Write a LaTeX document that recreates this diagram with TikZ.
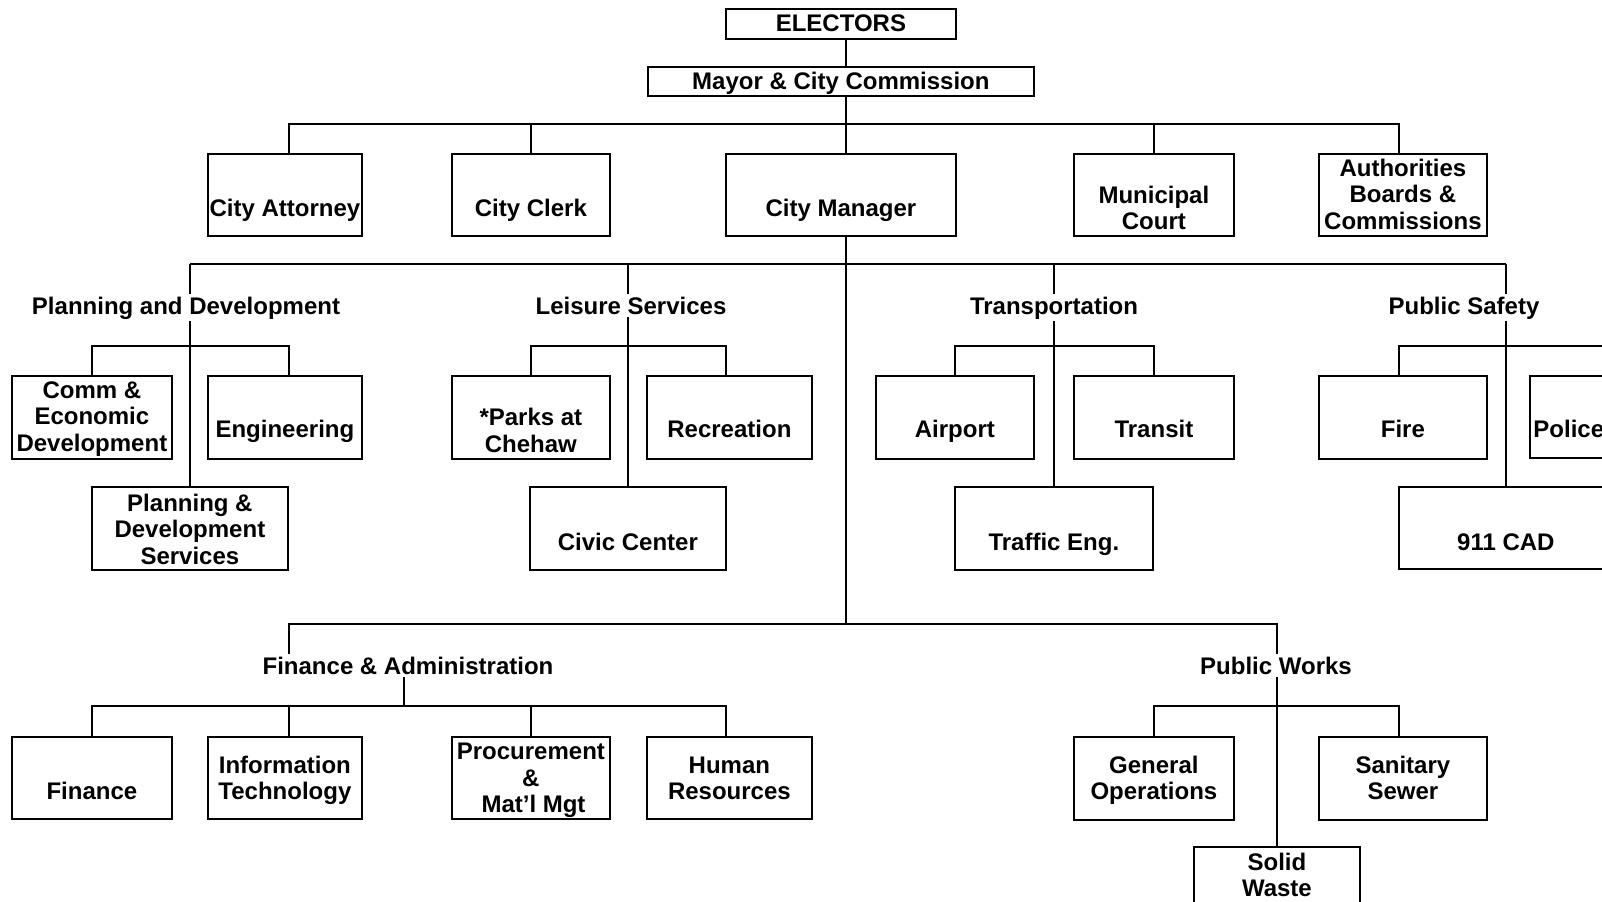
\documentclass[tikz,border=0pt]{standalone}
\usepackage{fontspec}
\setmainfont{Liberation Sans}
\usetikzlibrary{backgrounds}
\newcommand\mlines[1]{\begin{tabular}[t]{@{}c@{}}#1\end{tabular}}
\begin{document}
\begin{tikzpicture}[x=0.5pt,y=-0.5pt,
  box/.style={draw,line width=0.9pt,anchor=north west,inner sep=0pt},
  txt/.style={anchor=base,inner sep=0pt,font=\bfseries\fontsize{12}{13.25}\selectfont},
  lbl/.style={anchor=base,fill=white,inner xsep=1pt,inner ysep=1.2pt,font=\bfseries\fontsize{12}{13.25}\selectfont},
  conn/.style={line width=0.95pt}]
\useasboundingbox (0,0) rectangle (1602,901);
\clip (0,0) rectangle (1602,901);
% ---------- boxes ----------
\node[box,minimum width=115pt,minimum height=15pt] (el) at (725,8) {};
\node[box,minimum width=193pt,minimum height=14.5pt] (mayor) at (647,66) {};
\node[box,minimum width=77pt,minimum height=41pt] (att) at (207,153) {};
\node[box,minimum width=79pt,minimum height=41pt] (clerk) at (451,153) {};
\node[box,minimum width=115pt,minimum height=41pt] (cm) at (725,153) {};
\node[box,minimum width=80pt,minimum height=41pt] (court) at (1073,153) {};
\node[box,minimum width=84pt,minimum height=41pt] (abc) at (1318,153) {};
% row 2
\node[box,minimum width=80pt,minimum height=41.5pt] (ced) at (11,375) {};
\node[box,minimum width=77pt,minimum height=41.5pt] (eng) at (207,375) {};
\node[box,minimum width=79pt,minimum height=41.5pt] (parks) at (451,375) {};
\node[box,minimum width=82.5pt,minimum height=41.5pt] (rec) at (646,375) {};
\node[box,minimum width=79pt,minimum height=41.5pt] (air) at (875,375) {};
\node[box,minimum width=80pt,minimum height=41.5pt] (transit) at (1073,375) {};
\node[box,minimum width=84pt,minimum height=41.5pt] (fire) at (1318,375) {};
\node[box,minimum width=95.5pt,minimum height=41pt] (police) at (1529,375) {};
% row 3
\node[box,minimum width=98pt,minimum height=41.5pt] (pds) at (91,486) {};
\node[box,minimum width=98pt,minimum height=41.5pt] (civic) at (529,486) {};
\node[box,minimum width=99pt,minimum height=41.5pt] (traffic) at (954,486) {};
\node[box,minimum width=107pt,minimum height=41pt] (cad) at (1398,486) {};
% row 4
\node[box,minimum width=80pt,minimum height=41pt] (fin) at (11,736) {};
\node[box,minimum width=77pt,minimum height=41pt] (it) at (207,736) {};
\node[box,minimum width=79pt,minimum height=41pt] (proc) at (451,736) {};
\node[box,minimum width=82.5pt,minimum height=41pt] (hr) at (646,736) {};
\node[box,minimum width=80pt,minimum height=41.5pt] (genops) at (1073,736) {};
\node[box,minimum width=84pt,minimum height=41.5pt] (sewer) at (1318,736) {};
\node[box,minimum width=83pt,minimum height=45pt] (solid) at (1193,846) {};
% ---------- box texts ----------
\node[txt] (elT) at (el.center |- 0,31) {ELECTORS};
\node[txt] (mayorT) at (mayor.center |- 0,89) {Mayor \& City Commission};
\node[txt] (attT) at (att.center |- 0,216) {City Attorney};
\node[txt] (clerkT) at (clerk.center |- 0,216) {City Clerk};
\node[txt] (cmT) at (cm.center |- 0,216) {City Manager};
\node[txt] (courtT) at (court.center |- 0,203) {\mlines{Municipal\\Court}};
\node[txt] (abcT) at (abc.center |- 0,176) {\mlines{Authorities\\Boards \&\\Commissions}};
\node[txt] (cedT) at (ced.center |- 0,398) {\mlines{Comm \&\\Economic\\Development}};
\node[txt] (engT) at (eng.center |- 0,437.7) {Engineering};
\node[txt] (parksT) at (parks.center |- 0,425.5) {\mlines{*Parks at\\Chehaw}};
\node[txt] (recT) at (rec.center |- 0,437.7) {Recreation};
\node[txt] (airT) at (air.center |- 0,437.7) {Airport};
\node[txt] (transitT) at (transit.center |- 0,437.7) {Transit};
\node[txt] (fireT) at (fire.center |- 0,437.7) {Fire};
\node[txt,anchor=base west] (policeT) at (1533,437.7) {Police};
\node[txt] (pdsT) at (pds.center |- 0,511) {\mlines{Planning \&\\Development\\Services}};
\node[txt] (civicT) at (civic.center |- 0,550) {Civic Center};
\node[txt] (trafficT) at (traffic.center |- 0,550) {Traffic Eng.};
\node[txt] (cadT) at (cad.center |- 0,550) {911 CAD};
\node[txt] (finT) at (fin.center |- 0,799.4) {Finance};
\node[txt] (itT) at (it.center |- 0,773) {\mlines{Information\\Technology}};
\node[txt] (procT) at (proc.center |- 0,759.5) {\mlines{Procurement\\\&\\\hspace*{2.6pt}Mat’l Mgt}};
\node[txt] (hrT) at (hr.center |- 0,773) {\mlines{Human\\Resources}};
\node[txt] (genopsT) at (genops.center |- 0,773) {\mlines{General\\Operations}};
\node[txt] (sewerT) at (sewer.center |- 0,773) {\mlines{Sanitary\\Sewer}};
\node[txt] (solidT) at (solid.center |- 0,870) {\mlines{Solid\\Waste}};
% ---------- group labels ----------
\node[lbl] (pd) at (186,314) {Planning and Development};
\node[lbl] (ls) at (631,314) {Leisure Services};
\node[lbl] (tr) at (1054,314) {Transportation};
\node[lbl] (ps) at (1464,314) {Public Safety};
\node[lbl] (fa) at (408,674) {Finance \& Administration};
\node[lbl] (pw) at (1276,674) {Public Works};
% ---------- connectors ----------
\begin{pgfonlayer}{background}
\clip (0,0) rectangle (1602,901);
\coordinate (t1) at (846,124);
\coordinate (t2) at (846,264);
\coordinate (t3) at (846,624);
\coordinate (b3) at (0,346);
\coordinate (b4) at (0,706);
\path ([xshift=2pt]att.north) coordinate (attd)
      ([xshift=-2pt]abc.north) coordinate (abcd)
      ([xshift=2pt]eng.north) coordinate (engd)
      ([xshift=-1.75pt]rec.north) coordinate (recd)
      ([xshift=-2pt]fire.north) coordinate (fired)
      ([xshift=2pt]it.north) coordinate (itd)
      ([xshift=-1.75pt]hr.north) coordinate (hrd)
      ([xshift=-2pt]sewer.north) coordinate (swd)
      ([xshift=-2pt]fa.center) coordinate (fad);
\draw[conn] (el.south -| t1) -- (mayor.north -| t1);
\draw[conn] (mayor.south -| t1) -- (cm.north -| t1);
\draw[conn] (attd) |- (t1) -| (abcd);
\draw[conn] (clerk.north) -- (clerk.north |- t1);
\draw[conn] (court.north) -- (court.north |- t1);
\draw[conn] (cm.south -| t2) -- (t3);
\draw[conn] (pds.north |- t2) -- (cad.north |- t2);
\draw[conn] (pds.north |- t2) -- (pds.north);
\draw[conn] (civic.north |- t2) -- (civic.north);
\draw[conn] (traffic.north |- t2) -- (traffic.north);
\draw[conn] (cad.north |- t2) -- (cad.north);
\draw[conn] (engd) |- (ced.north |- b3) -- (ced.north);
\draw[conn] (recd) |- (parks.north |- b3) -- (parks.north);
\draw[conn] (transit.north) |- (air.north |- b3) -- (air.north);
\draw[conn] (fired) |- (police.north |- b3) -- (police.north);
\draw[conn] (itd |- fa.center) |- (solid.north |- t3) -- (solid.north);
\draw[conn] (fad) -- (fad |- b4);
\draw[conn] (fin.north) |- (hrd |- b4) -- (hrd);
\draw[conn] (itd) -- (itd |- b4);
\draw[conn] (proc.north) -- (proc.north |- b4);
\draw[conn] (genops.north) |- (swd |- b4) -- (swd);
\end{pgfonlayer}
\end{tikzpicture}
\end{document}
